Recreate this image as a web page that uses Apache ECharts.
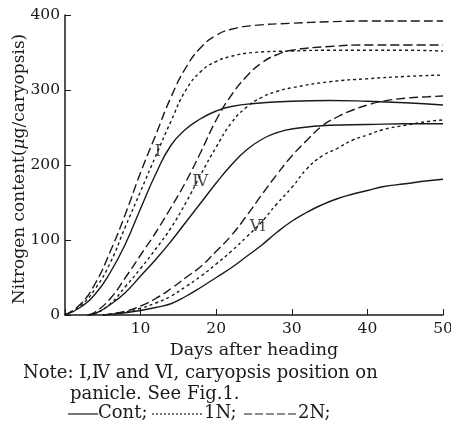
<!DOCTYPE html>
<html>
<head>
<meta charset="utf-8">
<script src="https://cdn.jsdelivr.net/npm/echarts@6/dist/echarts.min.js"></script>
<style>
html, body { margin: 0; padding: 0; background: #fff; }
#chart { width: 451px; height: 428px; }
</style>
</head>
<body>
<div id="chart"></div>
<script>
// days after heading, one grid per caryopsis position
var daysI = [0, 2, 4, 6, 8, 10, 12, 14, 16, 18, 20, 22, 25, 30, 35, 40, 45, 50];
var daysIV = [3, 4, 6, 8, 10, 12, 14, 16, 18, 20, 22, 24, 26, 28, 30, 35, 40, 45, 50];
var daysVI = [5, 8, 10, 12, 14, 16, 18, 20, 22, 24, 26, 28, 30, 32, 34, 36, 38, 40, 42, 45, 48, 50];

// nitrogen content (ug/caryopsis)
var contI = [0, 10, 28, 57, 95, 142, 188, 226, 248, 262, 272, 278, 282, 285, 286, 285, 283, 280];
var oneNI = [0, 12, 35, 70, 118, 165, 212, 258, 300, 325, 338, 345, 350, 352, 353, 353, 353, 352];
var twoNI = [0, 14, 42, 85, 135, 190, 240, 290, 330, 357, 373, 381, 386, 389, 391, 392, 392, 392];

var contIV = [0, 2, 14, 30, 52, 74, 98, 124, 150, 176, 200, 220, 234, 243, 248, 253, 254, 255, 255];
var oneNIV = [0, 2, 15, 38, 62, 88, 116, 150, 188, 224, 256, 277, 290, 298, 303, 311, 315, 318, 320];
var twoNIV = [0, 4, 22, 50, 80, 110, 143, 178, 218, 260, 293, 318, 336, 347, 353, 358, 360, 360, 360];

var contVI = [0, 3, 6, 10, 15, 25, 37, 50, 63, 78, 93, 110, 125, 137, 147, 155, 161, 166, 171, 175, 179, 181];
var oneNVI = [0, 4, 9, 16, 25, 38, 52, 68, 85, 104, 124, 148, 170, 195, 212, 222, 233, 240, 247, 253, 258, 260];
var twoNVI = [0, 5, 12, 22, 35, 50, 65, 85, 106, 132, 160, 187, 212, 233, 252, 264, 273, 280, 285, 289, 291, 292];

// curve labels (position on panicle)
var posNames = ['Ⅰ', 'Ⅳ', 'Ⅵ'];
var posDays = [12.3, 17.9, 25.5];
var posValues = [217, 177, 117];

var ink = '#1a1a1a';
var serif = 'DejaVu Serif';
var noteFont = '18px "DejaVu Serif"';

function pairs(days, vals) {
    return days.map(function (d, i) { return [d, vals[i]]; });
}

function curve(days, vals, dash) {
    return {
        type: 'line',
        data: pairs(days, vals),
        smooth: 0.5,
        symbol: 'none',
        silent: true,
        lineStyle: { color: ink, width: 1.4, type: dash }
    };
}

var chart = echarts.init(document.getElementById('chart'));

var option = {
    animation: false,
    backgroundColor: '#fff',
    grid: { left: 65, top: 15, width: 378, height: 300, outerBoundsMode: 'none' },
    xAxis: {
        type: 'value',
        min: 0, max: 50, interval: 10,
        name: 'Days after heading',
        nameLocation: 'middle',
        nameGap: 23,
        nameTextStyle: { color: ink, fontFamily: serif, fontSize: 17.5 },
        axisLine: { lineStyle: { color: ink, width: 1.5 } },
        axisTick: { inside: true, length: 6, lineStyle: { color: ink } },
        splitLine: { show: false },
        axisLabel: {
            color: ink, fontFamily: serif, fontSize: 15.5, margin: 6,
            formatter: function (v) { return v === 0 ? '' : v; }
        }
    },
    yAxis: {
        type: 'value',
        min: 0, max: 400, interval: 100,
        axisLine: { show: true, lineStyle: { color: ink, width: 1.5 } },
        axisTick: { show: true, inside: true, length: 6, lineStyle: { color: ink } },
        splitLine: { show: false },
        axisLabel: { color: ink, fontFamily: serif, fontSize: 15.5, margin: 5 }
    },
    series: [
        curve(daysI, contI, 'solid'),
        curve(daysI, oneNI, [3, 3]),
        curve(daysI, twoNI, [9, 4]),
        curve(daysIV, contIV, 'solid'),
        curve(daysIV, oneNIV, [3, 3]),
        curve(daysIV, twoNIV, [9, 4]),
        curve(daysVI, contVI, 'solid'),
        curve(daysVI, oneNVI, [3, 3]),
        curve(daysVI, twoNVI, [9, 4]),
        {
            type: 'scatter',
            symbolSize: 0,
            silent: true,
            data: posNames.map(function (n, i) { return [posDays[i], posValues[i], n]; }),
            label: {
                show: true, position: 'inside',
                formatter: function (p) { return p.value[2]; },
                color: ink, fontFamily: serif, fontSize: 16,
                backgroundColor: '#fff', padding: [0, 1]
            }
        }
    ],
    graphic: [
        // y axis title, drawn by hand so it sits close to the tick labels
        {
            type: 'text', x: 20, y: 169, rotation: Math.PI / 2,
            style: {
                text: 'Nitrogen content({i|μ}g/caryopsis)',
                align: 'center', verticalAlign: 'middle',
                fill: ink, font: '17px "DejaVu Serif"',
                rich: { i: { fontStyle: 'italic', fontFamily: serif, fontSize: 17, fill: ink } }
            }
        },
        { type: 'text', left: 23, top: 364, style: { text: 'Note: Ⅰ,Ⅳ and Ⅵ, caryopsis position on', fill: ink, font: noteFont } },
        { type: 'text', left: 70, top: 385, style: { text: 'panicle. See Fig.1.', fill: ink, font: noteFont } },
        { type: 'line', shape: { x1: 68, y1: 414, x2: 98, y2: 414 }, style: { stroke: ink, lineWidth: 1.2 } },
        { type: 'text', left: 98, top: 404, style: { text: 'Cont;', fill: ink, font: noteFont } },
        { type: 'line', shape: { x1: 152, y1: 414, x2: 204, y2: 414 }, style: { stroke: ink, lineWidth: 1.2, lineDash: [2, 2] } },
        { type: 'text', left: 204, top: 404, style: { text: '1N;', fill: ink, font: noteFont } },
        { type: 'line', shape: { x1: 244, y1: 414, x2: 298, y2: 414 }, style: { stroke: ink, lineWidth: 1.2, lineDash: [8, 3] } },
        { type: 'text', left: 298, top: 404, style: { text: '2N;', fill: ink, font: noteFont } }
    ]
};

chart.setOption(option);
</script>
</body>
</html>
